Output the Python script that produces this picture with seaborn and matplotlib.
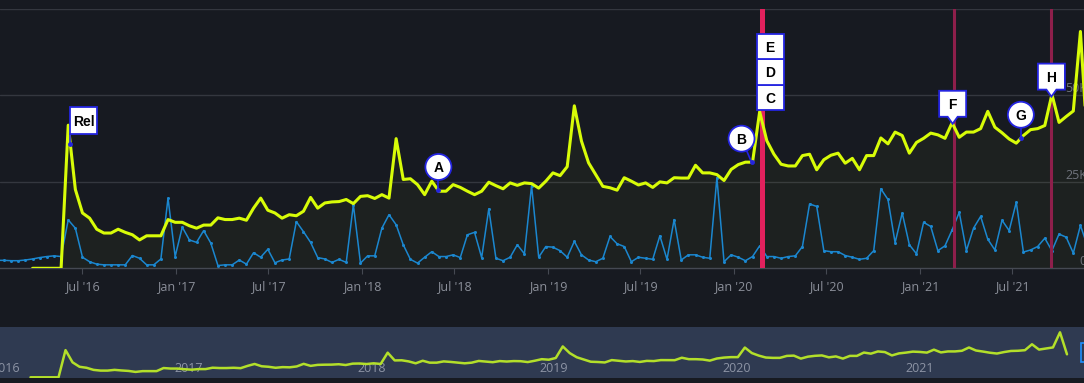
import numpy as np
import pandas as pd
import seaborn as sns
import matplotlib.pyplot as plt
import matplotlib.dates as mdates
import matplotlib.transforms as mtransforms
from matplotlib.patches import Circle, Polygon, Rectangle

W, H = 1084, 383

# ---- data: biweekly points, values in thousands
owners_start = '2016-03-25'
owners_k = [0, 0, 0, 0, 0, 41.4, 22.8, 16.0, 14.5, 11.3,
            10.2, 10.2, 11.3, 10.4, 9.7, 8.2, 9.4, 9.4, 9.4, 14.1,
            13.3, 13.3, 12.3, 11.6, 12.5, 12.5, 14.6, 14.1, 14.1, 14.5,
            13.9, 17.4, 20.3, 16.8, 16.0, 14.5, 15.5, 15.2, 16.5, 20.5,
            17.4, 18.9, 19.2, 19.3, 19.9, 18.7, 20.8, 21.0, 20.2, 21.3,
            20.3, 37.5, 25.7, 25.9, 24.2, 21.3, 25.2, 22.3, 22.3, 24.2,
            23.4, 22.3, 21.3, 22.3, 24.9, 23.9, 23.0, 24.7, 24.0, 24.7,
            24.5, 23.2, 25.2, 27.6, 26.8, 29.4, 47.0, 36.8, 30.5, 27.1,
            23.7, 23.3, 22.6, 26.2, 25.2, 24.1, 24.7, 23.4, 25.0, 24.7,
            26.2, 26.1, 26.1, 29.8, 27.6, 27.6, 27.1, 25.4, 28.6, 30.0,
            30.7, 30.7, 45.3, 36.9, 33.0, 30.1, 29.6, 29.6, 32.6, 33.0,
            28.5, 31.4, 32.7, 33.3, 30.4, 31.8, 28.5, 32.6, 32.6, 37.7,
            36.0, 39.4, 38.4, 33.3, 36.4, 37.6, 39.1, 38.6, 37.6, 42.1,
            37.9, 39.4, 39.4, 40.4, 45.4, 40.8, 39.2, 37.4, 36.2, 38.4,
            40.1, 40.4, 41.3, 50.3, 42.2, 43.9, 45.5, 68.5, 35.0]

players_start = '2016-01-15'
players_k = [2.3, 2.3, 2.2, 2.2, 2.4,
             2.7, 3.1, 3.4, 3.6, 3.4, 14.0, 11.6, 3.2, 1.9, 1.2,
             1.0, 1.0, 1.0, 1.0, 3.7, 2.9, 1.0, 1.0, 2.7, 20.3,
             3.4, 11.9, 8.2, 7.5, 10.9, 7.3, 0.8, 1.0, 1.0, 2.4,
             1.2, 4.5, 3.2, 5.5, 1.6, 2.4, 2.7, 13.5, 10.6, 7.5,
             3.1, 2.7, 1.7, 2.6, 1.7, 18.4, 1.5, 3.6, 3.6, 11.6,
             15.5, 12.6, 6.8, 2.6, 1.5, 3.2, 4.8, 3.4, 3.4, 3.9,
             3.1, 9.7, 10.4, 3.1, 17.2, 2.9, 2.2, 3.2, 6.8, 4.2,
             23.9, 3.2, 6.3, 6.1, 5.1, 3.2, 7.8, 3.9, 2.4, 1.9,
             2.9, 9.2, 7.1, 6.3, 1.9, 3.2, 2.9, 2.6, 9.4, 2.6,
             14.1, 2.4, 3.9, 3.9, 3.2, 2.9, 26.2, 1.9, 3.9, 3.2,
             2.2, 3.4, 6.5, 3.4, 3.4, 2.9, 3.4, 3.6, 6.3, 18.6,
             17.9, 5.1, 4.8, 4.8, 3.7, 3.2, 2.6, 2.9, 5.1, 23.0,
             19.9, 7.4, 16.0, 6.8, 4.2, 13.3, 12.1, 5.1, 6.5, 11.1,
             16.2, 5.1, 11.6, 15.0, 8.4, 5.3, 13.9, 10.9, 19.1, 4.7,
             5.3, 6.3, 8.7, 5.1, 9.9, 9.0, 4.4, 12.4, 6.3]

flag_names = ['Rel', 'A', 'B', 'C', 'D', 'E', 'F', 'G', 'H']
flag_dates = ['2016-06-07', '2018-05-31', '2020-02-05', '2020-02-21', '2020-02-21',
              '2020-02-21', '2021-03-06', '2021-07-18', '2021-09-16']
flag_shapes = ['flag', 'circle', 'circle', 'stack', 'stack', 'stack', 'pin', 'circle', 'pin']
flag_dx = [0, 0, -10, -3, -3, -3, 0, 0, 0]

event_lines = ['2020-02-25', '2021-03-08', '2021-09-16']
event_colors = ['#e2215d', '#8e1f4b', '#8e1f4b']
event_widths = [3.6, 2.2, 2.2]

y_ticks = [0, 25000, 50000]
y_labels = ['0', '25K', '50K']
nav_years = [2016, 2017, 2018, 2019, 2020, 2021]

own = pd.DataFrame({'date': pd.date_range(owners_start, periods=len(owners_k), freq='14D'),
                    'v': np.array(owners_k) * 1000})
ply = pd.DataFrame({'date': pd.date_range(players_start, periods=len(players_k), freq='14D'),
                    'v': np.array(players_k) * 1000})

# ---- style
sns.set_theme(style='dark')
plt.rcParams['font.family'] = ['Open Sans', 'DejaVu Sans']
bg = '#171a21'
yellow = '#d8fc08'
blue = '#1b87cf'
pin_blue = '#2424e0'

fig = plt.figure(figsize=(W / 100, H / 100), dpi=100, facecolor=bg)

#%% main chart
ax = fig.add_axes([0, (H - 268.3) / H, 1, 259.3 / H])
ax.set_facecolor(bg)

ax.fill_between(own['date'], own['v'], color=yellow, alpha=0.035, lw=0, zorder=1)
sns.lineplot(data=ply, x='date', y='v', ax=ax, color=blue, lw=1.1, marker='o',
             markersize=2.2, markeredgewidth=0, estimator=None, zorder=2)
for d, c, w in zip(event_lines, event_colors, event_widths):
    ax.axvline(pd.Timestamp(d), color=c, lw=w, zorder=3)
sns.lineplot(data=own, x='date', y='v', ax=ax, color=yellow, lw=2.2, estimator=None, zorder=4)

ax.set_xlim(pd.Timestamp('2016-01-21'), pd.Timestamp('2021-11-19'))
ax.set_ylim(0, 75000)
ax.set_yticks([25000, 50000, 75000])
ax.yaxis.grid(True, color='#34373f', lw=1)
ax.xaxis.grid(False)
ax.tick_params(axis='y', length=0, labelleft=False)
for s in ['left', 'right', 'top']:
    ax.spines[s].set_visible(False)
ax.spines['bottom'].set_color('#454952')
ax.spines['bottom'].set_linewidth(1)
ax.xaxis.set_major_locator(mdates.MonthLocator(bymonth=[1, 7]))
ax.xaxis.set_major_formatter(mdates.DateFormatter("%b '%y"))
ax.tick_params(axis='x', bottom=True, length=4.3, width=0.8, color='#454952',
               labelcolor='#8b8f99', labelsize=9, pad=4)
ax.set_xlabel('')
ax.set_ylabel('')

trans = mtransforms.blended_transform_factory(ax.transAxes, ax.transData)
for v, lab in zip(y_ticks, y_labels):
    ax.text(1 + 3 / W, v, lab, transform=trans, ha='right', va='bottom',
            color='#6f737c', fontsize=9, zorder=2, clip_on=False)

#%% navigator
nav = fig.add_axes([0, (H - 378) / H, 1, 51 / H])
nav.set_facecolor('#2f3a51')
sns.lineplot(data=own, x='date', y='v', ax=nav, color='#b3df2a', lw=1.8, estimator=None, zorder=3)
nav.set_xlim(pd.Timestamp('2016-01-24'), pd.Timestamp('2021-12-30'))
nav.set_ylim(-1070, 76600)
nav.set_xticks([])
nav.set_yticks([])
nav.set_xlabel('')
nav.set_ylabel('')
for s in nav.spines.values():
    s.set_visible(False)
ntrans = mtransforms.blended_transform_factory(nav.transData, nav.transAxes)
for yr in nav_years:
    nav.annotate(str(yr), (mdates.date2num(pd.Timestamp(f'{yr}-01-01')), 0), xycoords=ntrans,
                 xytext=(3, 10), textcoords='offset pixels', ha='left', va='center',
                 color='#8d94a5', fontsize=9, zorder=1)

#%% flags overlay (pixel coords)
ov = fig.add_axes([0, 0, 1, 1])
ov.set_xlim(0, W)
ov.set_ylim(H, 0)
ov.axis('off')
ov.patch.set_alpha(0)

own_num = mdates.date2num(own['date'])


def to_px(d):
    x = mdates.date2num(pd.Timestamp(d))
    v = np.interp(x, own_num, own['v'])
    px, py = ax.transData.transform((x, v))
    return px, H - py


flag_font = dict(ha='center', va='center_baseline', fontsize=10, fontweight='bold',
                 color='black', family=['Liberation Sans', 'DejaVu Sans'], zorder=6)
stack_i = 0
for name, d, shape, dx in zip(flag_names, flag_dates, flag_shapes, flag_dx):
    px, py = to_px(d)
    if shape == 'circle':
        cx, cy = px + dx, py - 23.5
        ov.plot([cx, px], [cy, py], color=pin_blue, lw=1.2, zorder=4)
        ov.add_patch(Circle((cx, cy), 13, fc='white', ec=pin_blue, lw=1.3, zorder=5))
        ov.plot(px, py, 'o', ms=2.5, color=pin_blue, zorder=5)
    elif shape == 'flag':
        cx, cy = px + 13.5, py - 23.5
        ov.plot([px, px], [py - 10, py], color=pin_blue, lw=1.2, zorder=4)
        ov.add_patch(Rectangle((px, py - 37), 27, 27, fc='white', ec=pin_blue, lw=1.3, zorder=5))
        ov.plot(px, py, 'o', ms=2.5, color=pin_blue, zorder=5)
    elif shape == 'stack':
        top = py - 1.5 - 25.5 * (stack_i + 1)
        ov.add_patch(Rectangle((px + dx, top), 27, 25.5, fc='white', ec=pin_blue, lw=1.3, zorder=5))
        cx, cy = px + dx + 13.5, top + 12.75
        stack_i += 1
    else:
        b = py - 7
        pts = [(px - 13.5, b - 26), (px + 13.5, b - 26), (px + 13.5, b), (px + 5, b),
               (px, py), (px - 5, b), (px - 13.5, b)]
        ov.add_patch(Polygon(pts, closed=True, fc='white', ec=pin_blue, lw=1.3, zorder=5))
        cx, cy = px, b - 13
    ov.text(cx, cy, name, **flag_font)

# navigator handle at the right edge
ov.add_patch(Rectangle((1081, 343), 10, 19, fc='#2f3a51', ec='#1e90ff', lw=1.2, zorder=5))

plt.savefig('out.png', dpi=100, facecolor=bg)
